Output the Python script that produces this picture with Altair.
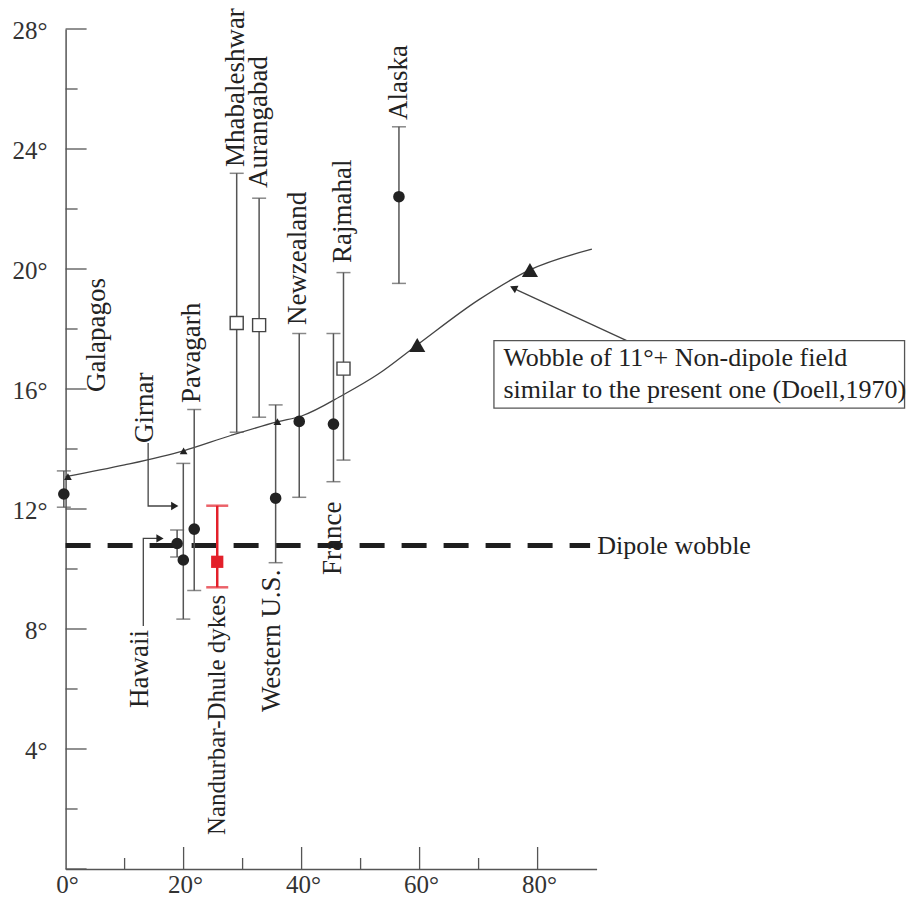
import altair as alt
import pandas as pd

# ---------------- data ----------------
site_names = ["Galapagos", "Hawaii", "Girnar", "Pavagarh", "Mhabaleshwar", "Aurangabad",
              "Western U.S.", "Newzealand", "France", "Rajmahal", "Alaska"]
site_x = [-0.3, 18.9, 19.95, 21.8, 29.0, 32.8, 35.6, 39.6, 45.4, 47.1, 56.5]
site_mean = [12.5, 10.85, 10.3, 11.33, 18.2, 18.13, 12.36, 14.92, 14.83, 16.68, 22.41]
site_low = [12.06, 10.4, 8.33, 9.28, 14.56, 15.06, 10.21, 12.39, 12.91, 13.63, 19.52]
site_high = [13.27, 11.3, 13.52, 15.32, 23.19, 22.36, 15.47, 17.85, 17.85, 19.88, 24.74]
site_marker = ["dot", "dot", "dot", "dot", "open", "open", "dot", "dot", "dot", "open", "dot"]

nd_x = [25.7]
nd_mean = [10.24]
nd_low = [9.39]
nd_high = [12.11]

curve_x = [0, 10, 20, 28, 36, 40, 47, 53, 59.6, 70, 78.7, 89.2]
curve_y = [13.08, 13.47, 13.94, 14.45, 14.91, 15.1, 15.8, 16.5, 17.47, 18.97, 19.97, 20.66]

tri_x = [0.4, 20.0, 35.9, 59.6, 78.7]
tri_y = [13.08, 13.94, 14.91, 17.47, 19.97]
tri_big = [False, False, False, True, True]

dipole_y = 10.78
dipole_x_end = 88.9

label_text = ["Galapagos", "Girnar", "Pavagarh", "Mhabaleshwar", "Aurangabad", "Newzealand",
              "Rajmahal", "Alaska", "Hawaii", "Western U.S.", "France"]
label_x = [5.27, 13.46, 21.4, 28.9, 32.8, 39.4, 47.0, 56.5, 12.6, 34.98, 45.3]
label_y = [15.9, 14.2, 15.53, 23.4, 22.7, 18.13, 20.2, 24.97, 5.37, 5.23, 9.8]

nd_label = ["Nandurbar-Dhule dykes"]
nd_label_x = [25.6]
nd_label_y = [1.13]

leader_id = ["girnar", "girnar", "girnar", "hawaii", "hawaii", "hawaii", "doell", "doell"]
leader_ord = [0, 1, 2, 0, 1, 2, 0, 1]
leader_x = [13.99, 13.99, 18.0, 13.17, 13.17, 15.5, 95.1, 76.2]
leader_y = [14.2, 12.1, 12.1, 8.1, 11.02, 11.02, 17.61, 19.33]

head_x = [18.5, 16.0, 75.9]
head_y = [12.1, 11.02, 19.37]
head_shape = ["triangle-right", "triangle-right", "triangle-up"]
head_angle = [0, 0, 295]

box_x = [72.6]
box_x2 = [142.2]
box_y = [17.61]
box_y2 = [15.36]
note_lines = ["Wobble of 11°+ Non-dipole field", "similar to the present one (Doell,1970)"]
note_x = [74.2, 74.2]
note_y = [17.03, 15.97]

ytick_major = [0, 4, 8, 12, 16, 20, 24, 28]
ytick_minor = [2, 6, 10, 14, 18, 22, 26]
xtick_major = [20, 40, 60, 80]
xtick_minor = [10, 30, 50, 70]
ylabel_vals = [4, 8, 12, 16, 20, 24, 28]
xlabel_vals = [0, 20, 40, 60, 80]

# ---------------- chart ----------------
FONT = "Liberation Serif"
W, H = 531, 840
AX = "#555555"
TXT = "#222222"

xs = alt.Scale(domain=[0, 90], nice=False, zero=False)
ys = alt.Scale(domain=[0, 28], nice=False, zero=False)
xaxis = alt.Axis(values=xlabel_vals, labels=False, ticks=False, grid=False,
                 domainColor=AX, domainWidth=1.5, title=None)
yaxis = alt.Axis(values=ylabel_vals, labels=False, ticks=False, grid=False,
                 domainColor=AX, domainWidth=1.5, title=None)


def X(f="x"):
    return alt.X(f"{f}:Q", scale=xs, axis=xaxis, title=None)


def Y(f="y"):
    return alt.Y(f"{f}:Q", scale=ys, axis=yaxis, title=None)


sites = pd.DataFrame({"name": site_names, "x": site_x, "y": site_mean, "lo": site_low,
                      "hi": site_high, "m": site_marker})
nd = pd.DataFrame({"x": nd_x, "y": nd_mean, "lo": nd_low, "hi": nd_high})
curve = pd.DataFrame({"x": curve_x, "y": curve_y})
tris = pd.DataFrame({"x": tri_x, "y": tri_y, "big": tri_big})
labels = pd.DataFrame({"x": label_x, "y": label_y, "t": label_text})
ndlab = pd.DataFrame({"x": nd_label_x, "y": nd_label_y, "t": nd_label})
leaders = pd.DataFrame({"id": leader_id, "o": leader_ord, "x": leader_x, "y": leader_y})
heads = pd.DataFrame({"x": head_x, "y": head_y, "s": head_shape, "a": head_angle})
box = pd.DataFrame({"x": box_x, "x2": box_x2, "y": box_y, "y2": box_y2})
notes = pd.DataFrame({"x": note_x, "y": note_y, "t": note_lines})
dip = pd.DataFrame({"x": [0], "x2": [dipole_x_end], "y": [dipole_y]})
dlab = pd.DataFrame({"x": [dipole_x_end + 1.2], "y": [dipole_y], "t": ["Dipole wobble"]})

ymaj = pd.DataFrame({"y": ytick_major})
ymin = pd.DataFrame({"y": ytick_minor})
xmaj = pd.DataFrame({"x": xtick_major})
xmin = pd.DataFrame({"x": xtick_minor})
ylab = pd.DataFrame({"y": ylabel_vals})
xlab = pd.DataFrame({"x": xlabel_vals})

layers = []

# axes carriers + inward ticks
layers.append(alt.Chart(ymaj).mark_rule(color=AX, strokeWidth=1.3).encode(
    y=Y(), x=alt.value(0), x2=alt.value(21)))
layers.append(alt.Chart(ymin).mark_rule(color=AX, strokeWidth=1.3).encode(
    y=Y(), x=alt.value(0), x2=alt.value(12)))
layers.append(alt.Chart(xmaj).mark_rule(color=AX, strokeWidth=1.3).encode(
    x=X(), y=alt.value(H), y2=alt.value(H - 22)))
layers.append(alt.Chart(xmin).mark_rule(color=AX, strokeWidth=1.3).encode(
    x=X(), y=alt.value(H), y2=alt.value(H - 11)))

# tick labels
layers.append(alt.Chart(ylab).transform_calculate(t="datum.y + '°'").mark_text(
    align="right", baseline="middle", font=FONT, fontSize=25, color="#333333", dy=2).encode(
    y=Y(), x=alt.value(-18), text="t:N"))
layers.append(alt.Chart(xlab).transform_calculate(t="datum.x + '°'").mark_text(
    align="center", baseline="top", font=FONT, fontSize=25, color="#333333", dx=2).encode(
    x=X(), y=alt.value(H + 4), text="t:N"))

# Doell curve
layers.append(alt.Chart(curve).mark_line(interpolate="monotone", color="#444444",
                                         strokeWidth=1.3).encode(x=X(), y=Y()))

# dipole wobble dashed line
layers.append(alt.Chart(dip).mark_rule(color="#1e1e1e", strokeWidth=5,
                                       strokeDash=[25, 17]).encode(
    x=X(), x2="x2:Q", y=Y()))
layers.append(alt.Chart(dlab).mark_text(align="left", baseline="middle", font=FONT,
                                        fontSize=26, color=TXT).encode(
    x=X(), y=Y(), text="t:N"))

# error bars
layers.append(alt.Chart(sites).mark_rule(color=AX, strokeWidth=1.5).encode(
    x=X(), y=Y("lo"), y2="hi:Q"))
layers.append(alt.Chart(sites).mark_tick(color=AX, orient="horizontal", size=14,
                                         thickness=1.5).encode(x=X(), y=Y("lo")))
layers.append(alt.Chart(sites).mark_tick(color=AX, orient="horizontal", size=14,
                                         thickness=1.5).encode(x=X(), y=Y("hi")))

RED = "#e3202a"
layers.append(alt.Chart(nd).mark_rule(color=RED, strokeWidth=2.5).encode(
    x=X(), y=Y("lo"), y2="hi:Q"))
layers.append(alt.Chart(nd).mark_tick(color=RED, orient="horizontal", size=22,
                                      thickness=2.5).encode(x=X(), y=Y("lo")))
layers.append(alt.Chart(nd).mark_tick(color=RED, orient="horizontal", size=22,
                                      thickness=2.5).encode(x=X(), y=Y("hi")))

# markers
layers.append(alt.Chart(sites).transform_filter("datum.m == 'dot'").mark_point(
    shape="circle", filled=True, size=135, color=TXT, opacity=1).encode(x=X(), y=Y()))
layers.append(alt.Chart(sites).transform_filter("datum.m == 'open'").mark_point(
    shape="square", filled=True, size=170, fill="white", stroke="#444444", strokeWidth=1.4,
    opacity=1).encode(x=X(), y=Y()))
layers.append(alt.Chart(nd).mark_point(shape="square", filled=True, size=150, color=RED,
                                       opacity=1).encode(x=X(), y=Y()))

# triangles on the curve
layers.append(alt.Chart(tris).transform_filter("!datum.big").mark_point(
    shape="triangle-up", filled=True, size=60, color=TXT, opacity=1).encode(x=X(), y=Y()))
layers.append(alt.Chart(tris).transform_filter("datum.big").mark_point(
    shape="triangle-up", filled=True, size=260, color=TXT, opacity=1).encode(x=X(), y=Y()))

# leader lines and arrow heads
layers.append(alt.Chart(leaders).mark_line(color="#444444", strokeWidth=1.3).encode(
    x=X(), y=Y(), detail="id:N", order="o:Q"))
layers.append(alt.Chart(heads).mark_point(filled=True, size=70, color=TXT,
                                          opacity=1).encode(
    x=X(), y=Y(), shape=alt.Shape("s:N", scale=None, legend=None),
    angle=alt.Angle("a:Q", scale=None)))

# rotated site labels
layers.append(alt.Chart(labels).mark_text(angle=270, align="left", baseline="middle",
                                          font=FONT, fontSize=27, color=TXT).encode(
    x=X(), y=Y(), text="t:N"))
layers.append(alt.Chart(ndlab).mark_text(angle=270, align="left", baseline="middle",
                                         font=FONT, fontSize=25, color=TXT).encode(
    x=X(), y=Y(), text="t:N"))

# annotation box
layers.append(alt.Chart(box).mark_rect(fill="white", stroke="#555555", strokeWidth=1.3).encode(
    x=X(), x2="x2:Q", y=Y(), y2="y2:Q"))
layers.append(alt.Chart(notes).mark_text(align="left", baseline="middle", font=FONT,
                                         fontSize=26, color=TXT).encode(
    x=X(), y=Y(), text="t:N"))

chart = alt.layer(*layers).properties(
    width=W, height=H,
    autosize=alt.AutoSizeParams(type="none"),
    padding={"left": 57.6, "top": 21, "right": 314, "bottom": 28},
).configure_view(stroke=None)

chart.save("out.html", embed_options={"renderer": "svg", "actions": False})
